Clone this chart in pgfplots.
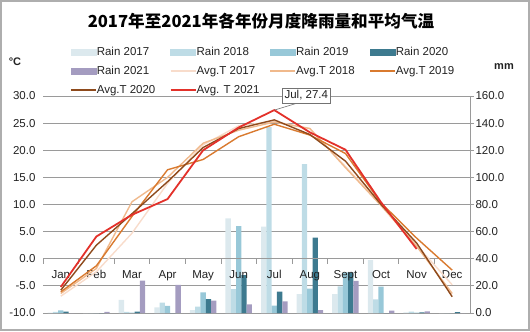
\documentclass[border=0pt]{standalone}
\usepackage{pgfplots}
\pgfplotsset{compat=1.18}
\usepackage{pgfplotstable}
\usepackage{fontspec}
\setmainfont{Liberation Sans}
\newfontfamily\cjk{Noto Sans CJK SC}

\definecolor{rainA}{HTML}{DCE9EE}
\definecolor{rainB}{HTML}{BEDCE6}
\definecolor{rainC}{HTML}{98C8D8}
\definecolor{rainD}{HTML}{3D7A8F}
\definecolor{rainE}{HTML}{A49CC0}
\definecolor{tA}{HTML}{F8DCCB}
\definecolor{tB}{HTML}{F0B98C}
\definecolor{tC}{HTML}{D97A2F}
\definecolor{tD}{HTML}{8E4A1C}
\definecolor{tE}{HTML}{E3312A}
\definecolor{gridc}{HTML}{9A9A9A}
\definecolor{txt}{HTML}{222222}

\pgfplotstableread{
m r17 r18 r19 r20 r21
1 0.3 0.8 2.0 1.1 0
2 0 0 0 0 0.8
3 9.6 0.8 0.3 1.0 23.8
4 4.2 7.6 5.2 0 20.8
5 2.2 4.7 15.2 10.3 9.1
6 69.8 17.6 64.0 28.0 6.4
7 63.6 137.0 5.4 15.7 8.5
8 14.0 109.8 18.0 55.5 2.2
9 14.0 19.6 30.0 30.0 23.7
10 39.0 10.0 19.4 0 1.7
11 0.5 1.0 0.3 0.5 1.2
12 0 0 0 0.7 0
}\rain

\pgfplotstableread{
m t17 t18 t19 t20 t21
1 -6.9 -6.4 -6.1 -5.8 -5.2
2 -2.4 -1.8 -1.3 2.5 4.1
3 4.7 10.5 7.8 8.3 8.1
4 13.9 15.0 16.4 14.2 11.0
5 21.0 21.3 18.3 20.5 20.0
6 24.5 23.7 22.5 24.0 24.2
7 25.3 25.2 24.8 25.6 27.4
8 24.0 24.0 22.8 22.9 23.3
9 17.0 16.8 19.4 18.0 20.1
10 10.0 9.8 10.3 10.0 10.4
11 2.5 2.3 3.8 2.9 1.8
12 -4.8 -6.4 -2.1 -7.0 nan
}\temp

\begin{document}
\begin{tikzpicture}[x=1bp,y=1bp]
\draw[color=gridc!80, line width=2bp] (1,1) rectangle (529,330);
\node[font=\cjk\bfseries\fontsize{16.6bp}{18bp}\selectfont, text=black] at (261,310) {2017年至2021年各年份月度降雨量和平均气温};
\node[font=\bfseries\fontsize{11bp}{12bp}\selectfont, text=txt] at (15,269) {°C};
\node[font=\bfseries\fontsize{11bp}{12bp}\selectfont, text=txt] at (504,264) {mm};

% Rain axis (right)
\begin{axis}[
  at={(43bp,18bp)}, anchor=south west, scale only axis,
  width=427bp, height=217bp,
  xmin=0.5, xmax=12.5, ymin=0, ymax=160,
  axis x line=none, axis y line*=right,
  ytick={0,20,...,160},
  yticklabels={0.0,20.0,40.0,60.0,80.0,100.0,120.0,140.0,160.0},
  ymajorgrids, grid style={color=gridc, line width=0.8bp},
  y axis line style={color=gridc, line width=0.8bp},
  ytick style={color=gridc, line width=0.8bp},
  tick align=outside, major tick length=4bp,
  yticklabel style={font=\fontsize{11.5bp}{13bp}\selectfont, text=txt, xshift=-2bp},
  ybar=0pt, bar width=5.3bp,
]
\addplot[fill=rainA, draw=none] table[x=m, y=r17]{\rain};
\addplot[fill=rainB, draw=none] table[x=m, y=r18]{\rain};
\addplot[fill=rainC, draw=none] table[x=m, y=r19]{\rain};
\addplot[fill=rainD, draw=none] table[x=m, y=r20]{\rain};
\addplot[fill=rainE, draw=none] table[x=m, y=r21]{\rain};
\end{axis}

% Temperature axis (left)
\begin{axis}[
  at={(43bp,18bp)}, anchor=south west, scale only axis,
  width=427bp, height=217bp,
  xmin=0.5, xmax=12.5, ymin=-10, ymax=30,
  clip=false,
  axis x line=middle, axis y line*=left,
  x axis line style={-, color=gridc, line width=0.8bp},
  y axis line style={draw=none},
  ytick={-10,-5,...,30},
  yticklabels={-10.0,-5.0,0.0,5.0,10.0,15.0,20.0,25.0,30.0},
  ytick style={draw=none},
  yticklabel style={font=\fontsize{11.5bp}{13bp}\selectfont, text=txt, xshift=-4bp},
  xtick={1,...,12},
  xticklabels={Jan,Feb,Mar,Apr,May,Jun,Jul,Aug,Sept,Oct,Nov,Dec},
  xtick style={draw=none},
  xticklabel style={font=\fontsize{11.5bp}{13bp}\selectfont, text=txt, yshift=-6bp},
  extra x ticks={0.5,1.5,...,12.5}, extra x tick labels={},
  extra x tick style={xtick style={draw=gridc, line width=0.8bp}, major tick length=5bp, tick align=outside},
  legend columns=4,
  legend style={at={(0.0632,1.228)}, anchor=north west, draw=none, fill=none,
    inner sep=0pt, font=\fontsize{11.5bp}{13bp}\selectfont, text=txt,
    nodes={inner sep=0pt, text height=8.5bp, text depth=2.5bp},
    /tikz/every even column/.append style={column sep=3.5bp}, row sep=8bp},
]
\addlegendimage{legend image code/.code={\fill[rainA] (0bp,-3.2bp) rectangle (25bp,3.2bp);}}
\addlegendentry{\makebox[69.5bp][l]{Rain 2017}}
\addlegendimage{legend image code/.code={\fill[rainB] (0bp,-3.2bp) rectangle (25bp,3.2bp);}}
\addlegendentry{\makebox[69.5bp][l]{Rain 2018}}
\addlegendimage{legend image code/.code={\fill[rainC] (0bp,-3.2bp) rectangle (25bp,3.2bp);}}
\addlegendentry{\makebox[69.5bp][l]{Rain 2019}}
\addlegendimage{legend image code/.code={\fill[rainD] (0bp,-3.2bp) rectangle (25bp,3.2bp);}}
\addlegendentry{\makebox[69.5bp][l]{Rain 2020}}
\addlegendimage{legend image code/.code={\fill[rainE] (0bp,-3.2bp) rectangle (25bp,3.2bp);}}
\addlegendentry{\makebox[69.5bp][l]{Rain 2021}}
\addlegendimage{legend image code/.code={\draw[tA, line width=1.6bp] (0bp,0bp) -- (25bp,0bp);}}
\addlegendentry{\makebox[69.5bp][l]{Avg.T 2017}}
\addlegendimage{legend image code/.code={\draw[tB, line width=1.6bp] (0bp,0bp) -- (25bp,0bp);}}
\addlegendentry{\makebox[69.5bp][l]{Avg.T 2018}}
\addlegendimage{legend image code/.code={\draw[tC, line width=1.6bp] (0bp,0bp) -- (25bp,0bp);}}
\addlegendentry{\makebox[69.5bp][l]{Avg.T 2019}}
\addlegendimage{legend image code/.code={\draw[tD, line width=1.6bp] (0bp,0bp) -- (25bp,0bp);}}
\addlegendentry{\makebox[69.5bp][l]{Avg.T 2020}}
\addlegendimage{legend image code/.code={\draw[tE, line width=1.8bp] (0bp,0bp) -- (25bp,0bp);}}
\addlegendentry{\makebox[69.5bp][l]{Avg. T 2021}}
\addplot[forget plot, color=tA, line width=1.4bp] table[x=m, y=t17]{\temp};
\addplot[forget plot, color=tB, line width=1.4bp] table[x=m, y=t18]{\temp};
\addplot[forget plot, color=tC, line width=1.4bp] table[x=m, y=t19]{\temp};
\addplot[forget plot, color=tD, line width=1.4bp] table[x=m, y=t20]{\temp};
\addplot[forget plot, color=tE, line width=1.8bp] table[x=m, y=t21]{\temp};
\draw[color=gray!90!black, line width=0.6bp] (axis cs:7,27.4) -- ++(23bp,7bp)
  node[anchor=south, xshift=9bp, draw=gray!90!black, fill=white, inner sep=2.5bp, line width=0.6bp,
  font=\fontsize{11.5bp}{13bp}\selectfont, text=txt] {Jul, 27.4};
\end{axis}
\end{tikzpicture}
\end{document}
